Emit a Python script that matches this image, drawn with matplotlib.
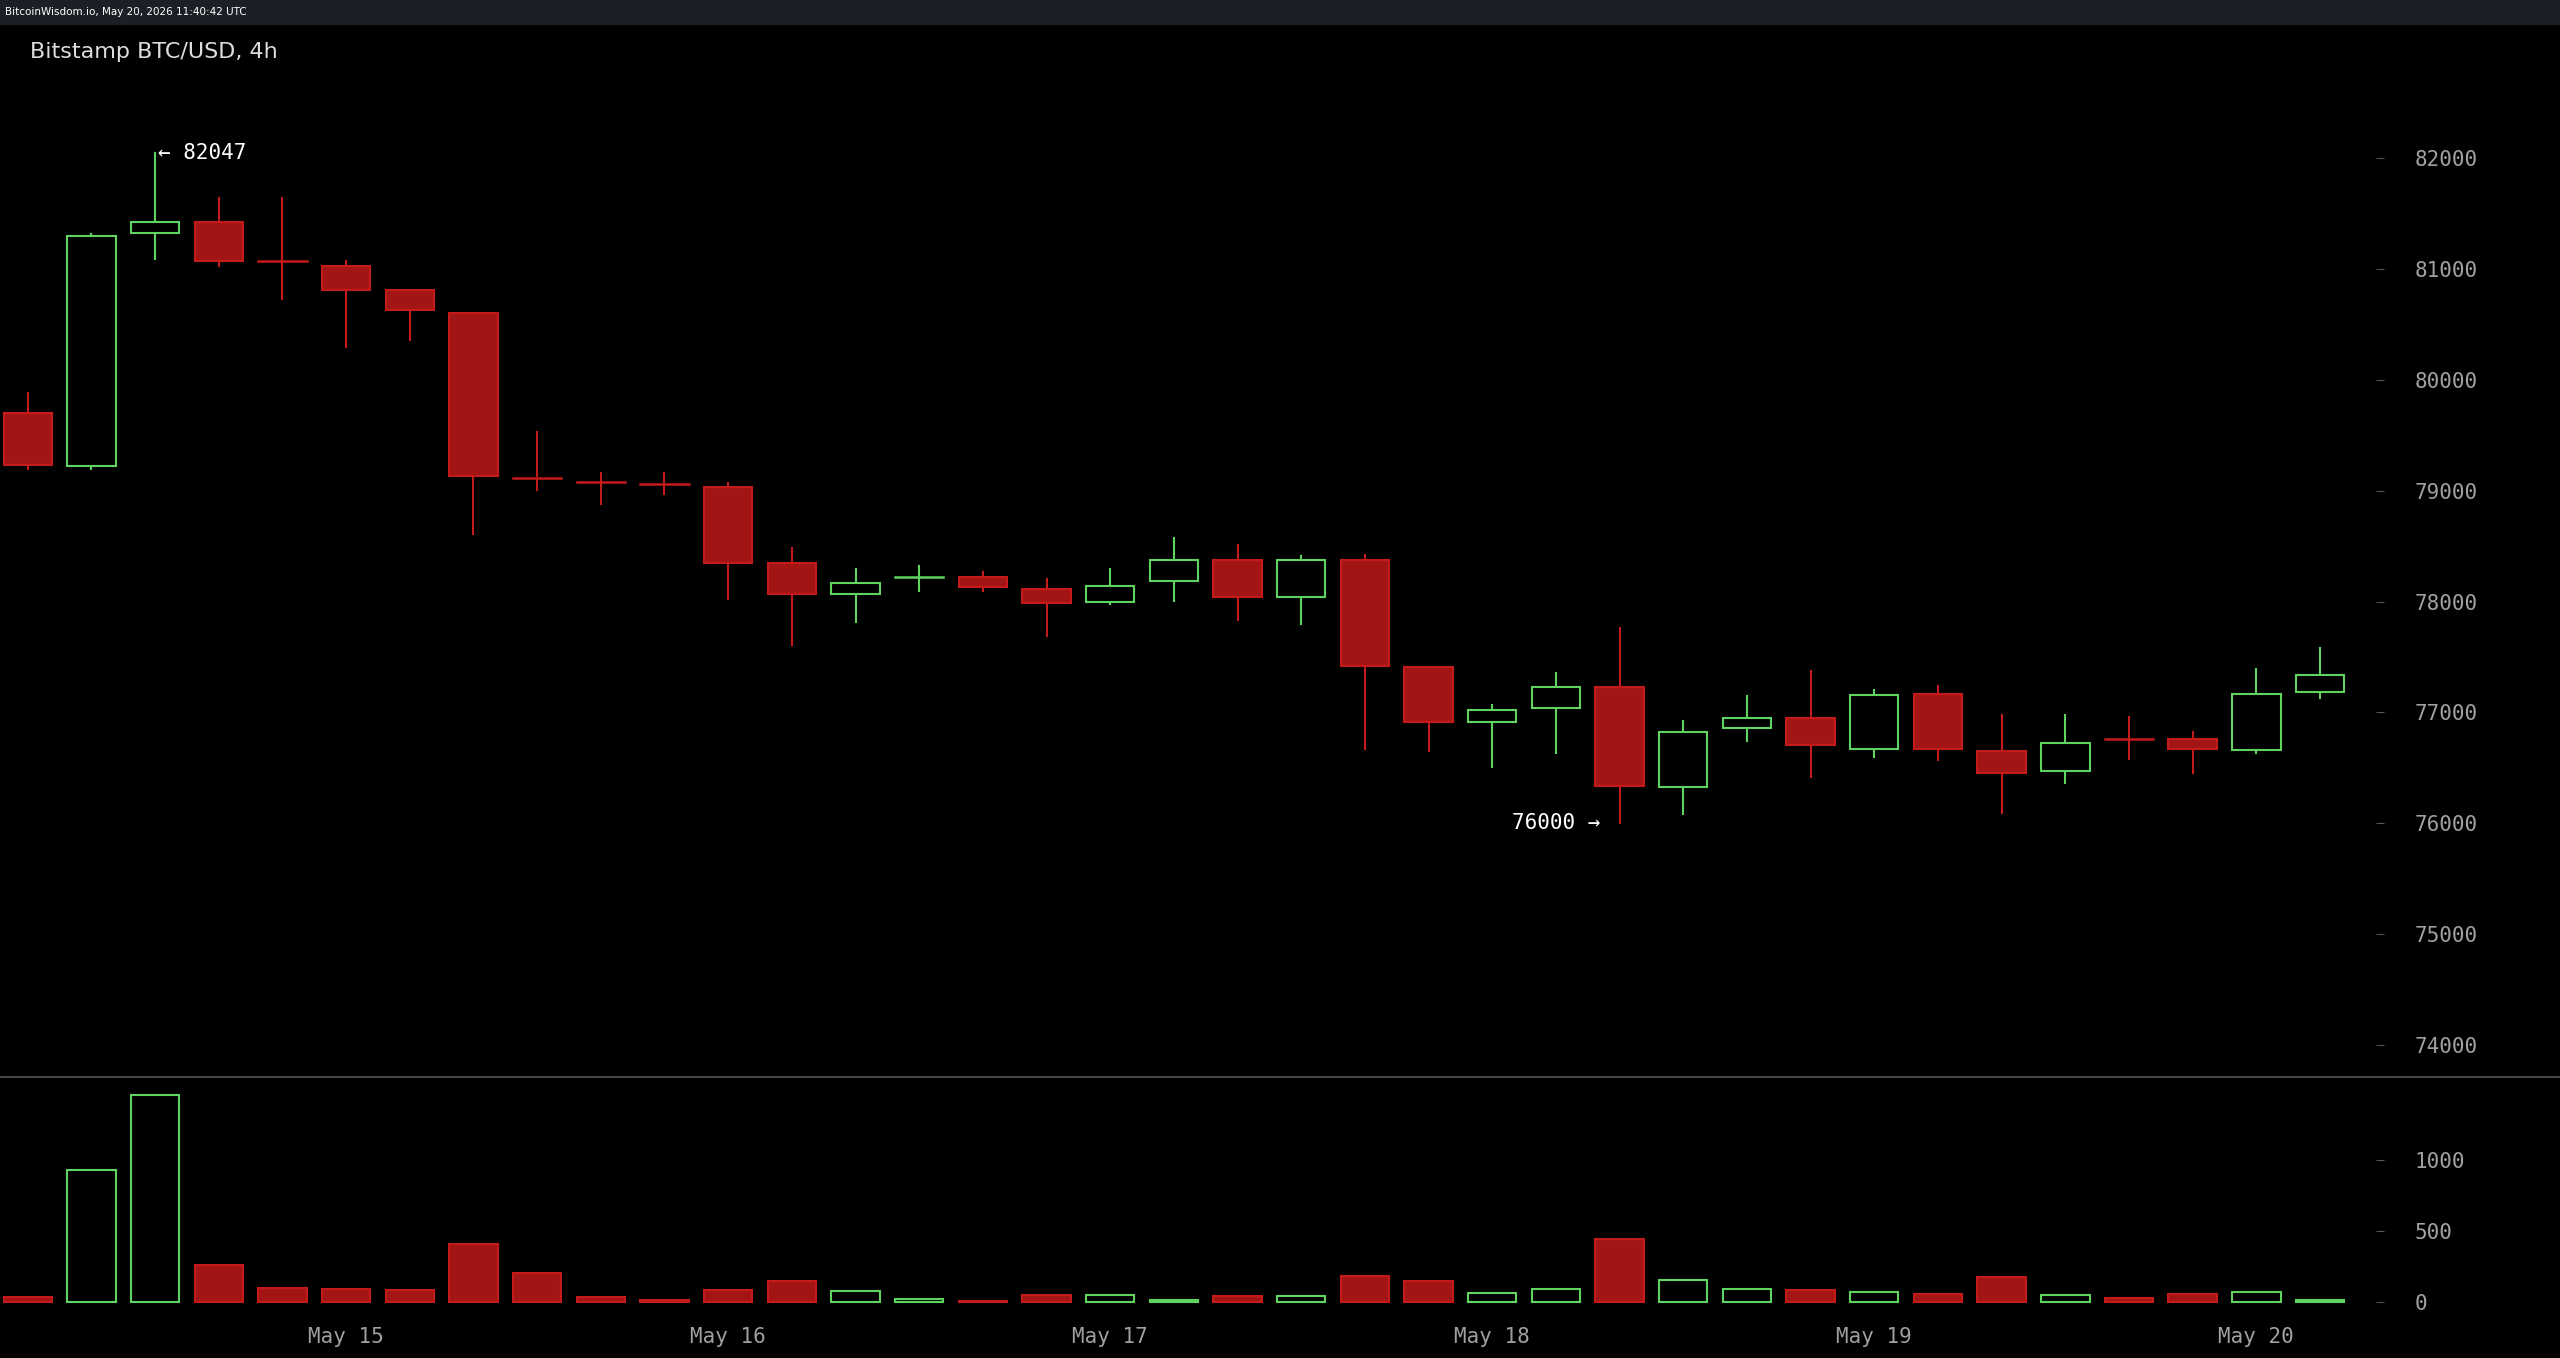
import matplotlib
matplotlib.use("Agg")
import matplotlib.pyplot as plt
from matplotlib.patches import Rectangle

opens  = [79700,79220,81330,81430,81080,81030,80810,80600,79130,79090,79080,79030,78350,78070,78210,78220,78110,78000,78190,78380,78040,78380,77410,76910,77040,77230,76330,76860,76950,76670,77170,76650,76470,76770,76760,76660,77180]
highs  = [79880,81320,82047,81640,81640,81070,80810,80600,79530,79160,79160,79070,78480,78290,78320,78270,78200,78290,78570,78510,78410,78420,77410,77070,77360,77760,76920,77150,77370,77200,77240,76980,76980,76960,76820,77390,77580]
lows   = [79200,79200,81090,81030,80730,80300,80360,78610,79010,78880,78970,78020,77610,77820,78100,78100,77690,77980,78010,77830,77800,76670,76650,76510,76630,76000,76080,76740,76420,76600,76570,76090,76360,76580,76450,76630,77130]
closes = [79230,81300,81430,81070,81060,80810,80630,79130,79110,79070,79050,78350,78070,78170,78230,78130,77990,78140,78380,78040,78380,77420,76910,77020,77230,76340,76820,76950,76710,77160,76670,76450,76720,76750,76670,77170,77340]
volumes = [40,930,1460,265,105,95,85,415,205,40,15,85,150,80,25,8,50,50,20,45,45,185,150,70,95,450,160,95,90,75,60,180,50,30,60,75,20]
date_labels = ["May 15","May 16","May 17","May 18","May 19","May 20"]
date_idx = [5,11,17,23,29,35]
price_ticks = [74000,75000,76000,77000,78000,79000,80000,81000,82000]
vol_ticks = [0,500,1000]

RED_F, RED_E, GREEN = "#a31515", "#c41a1a", "#5fd35f"
GREY = "#a0a0a0"
fig = plt.figure(figsize=(25.6,13.58), dpi=100, facecolor="black")
fig.patches.append(Rectangle((0,1-15/832),1,15/832,transform=fig.transFigure,color="#1c1f26",zorder=0))
fig.text(0.002,1-7.5/832,"BitcoinWisdom.io, May 20, 2026 11:40:42 UTC",color="white",fontsize=7.5,va="center")

L, R = 2/1568, 1460/1568
axp = fig.add_axes([L,1-660/832,R-L,645/832],facecolor="black")
axv = fig.add_axes([L,1-808/832,R-L,148/832],facecolor="black")
xl = (-(17-2)/39, (1460-17)/39)
axp.set_ylim(73708,83208)
axv.set_ylim(-115,1586)
axp.set_yticks(price_ticks); axv.set_yticks(vol_ticks)
for ax in (axp,axv):
    ax.set_xlim(*xl)
    for s in ax.spines.values(): s.set_visible(False)
    ax.tick_params(axis="y",direction="in",length=6,color="#555",labelcolor=GREY,labelsize=15,pad=22,left=False,labelleft=False,right=True,labelright=True)
    ax.set_xticks([])
    for t in ax.get_yticklabels(): t.set_family("DejaVu Sans Mono")
fig.add_artist(plt.Line2D([0,1],[1-660/832]*2,transform=fig.transFigure,color="#555",lw=1.2))

w=0.76
for i,(o,h,l,c,v) in enumerate(zip(opens,highs,lows,closes,volumes)):
    up = c>=o
    col = GREEN if up else RED_E
    lo, hi = min(o,c), max(o,c)
    axp.plot([i,i],[hi,h],color=col,lw=1.5,zorder=1)
    axp.plot([i,i],[l,lo],color=col,lw=1.5,zorder=1)
    if hi-lo < 40:
        axp.plot([i-w/2,i+w/2],[(o+c)/2]*2,color=col,lw=1.8,zorder=2)
    else:
        axp.add_patch(Rectangle((i-w/2,lo),w,hi-lo,facecolor="black" if up else RED_F,edgecolor=col,lw=1.5,zorder=2))
    axv.add_patch(Rectangle((i-w/2,0),w,v,facecolor="black" if up else RED_F,edgecolor=col,lw=1.5))

axp.text(0.0113,0.974,"Bitstamp BTC/USD, 4h",transform=axp.transAxes,color="#dddddd",fontsize=16,va="center")
axp.text(2.05,82047,"← 82047",color="white",fontsize=15,family="DejaVu Sans Mono",va="center")
axp.text(24.7,76000,"76000 →",color="white",fontsize=15,family="DejaVu Sans Mono",va="center",ha="right")
for i,lab in zip(date_idx,date_labels):
    axv.text(i,-0.074,lab,transform=axv.get_xaxis_transform(),color=GREY,fontsize=15,family="DejaVu Sans Mono",ha="center",va="center")
fig.savefig("out.png",dpi=100,facecolor="black")
